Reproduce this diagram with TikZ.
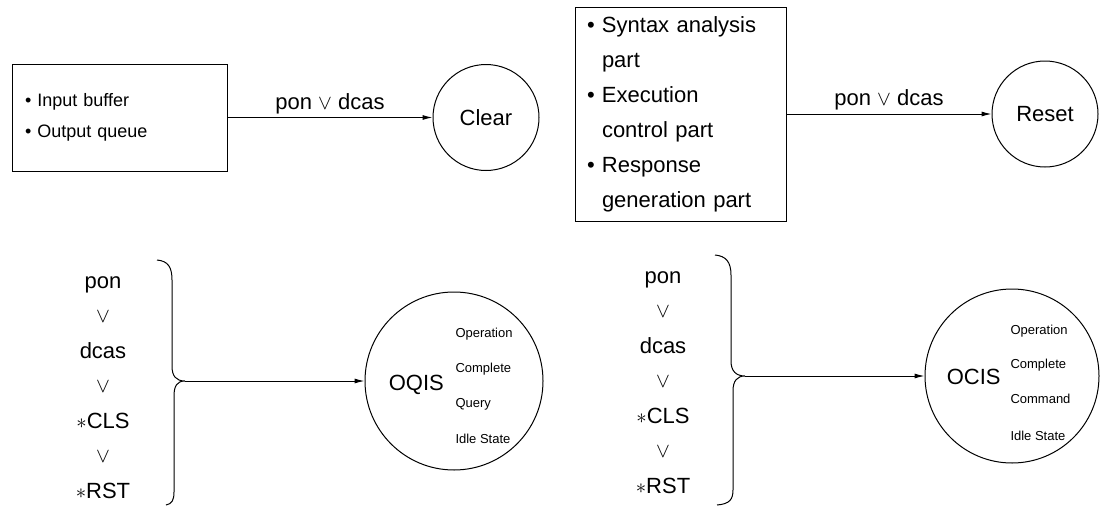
\documentclass[tikz,border=0pt]{standalone}
\usepackage{fontspec}
\setmainfont{Liberation Sans}
\usepackage{tikz}
\usetikzlibrary{arrows.meta}

\newcommand{\itm}{\makebox[15pt][l]{\textbullet}}
\newcommand{\cnt}{\hspace*{15pt}}

\begin{document}
\begin{tikzpicture}[x=1pt, y=-1pt, line width=1pt, >={Latex[length=10pt,width=5pt]}]
\useasboundingbox (0,0) rectangle (1100,506);

% boxes
\tikzstyle{every node}=[rectangle, draw, align=left, inner ysep=0pt]
\draw    (119.5,117.5) node[text width=189, inner xsep=13, minimum height=107,
                             font=\fontsize{18}{31}\selectfont] (buffers)
                             {\textbullet\ Input buffer\\\textbullet\ Output queue}
         (680.5,114) node[text width=187, inner xsep=12, minimum height=214,
                          font=\fontsize{22}{35}\selectfont] (parts)
                          {\itm Syntax analysis\\\cnt part\\\itm Execution\\\cnt control part\\
                           \itm Response\\\cnt generation part};

% states
\tikzstyle{every node}=[circle, draw, inner sep=0pt, font=\fontsize{22}{26}\selectfont]
\draw    (486,117.5) node[minimum size=106] (clear) {Clear}
         (1045,114)  node[minimum size=106] (reset) {Reset}
         (454,381)   node[minimum size=178] (oqis) {}
         (1012,376)  node[minimum size=174] (ocis) {};

\draw [->] (buffers) -- node[draw=none, rectangle, above, inner sep=3pt] {pon $\vee$ dcas} (clear);
\draw [->] (parts) -- node[draw=none, rectangle, above, inner sep=3pt] {pon $\vee$ dcas} (reset);

% conditions
\tikzstyle{every node}=[anchor=base, font=\fontsize{22}{26}\selectfont]
\draw    (103,288) node (ponL) {pon}
         (103,322) node (orL1) {$\vee$}
         (103,358) node (dcasL) {dcas}
         (103,392) node (orL2) {$\vee$}
         (103,428) node (clsL) {$\ast$CLS}
         (103,462) node (orL3) {$\vee$}
         (103,498) node (rstL) {$\ast$RST};
\draw    (663,283) node (ponR) {pon}
         (663,317) node (orR1) {$\vee$}
         (663,353) node (dcasR) {dcas}
         (663,387) node (orR2) {$\vee$}
         (663,423) node (clsR) {$\ast$CLS}
         (663,457) node (orR3) {$\vee$}
         (663,493) node (rstR) {$\ast$RST};

% braces
\draw (157,260) .. controls (168,261) and (172,267) .. (172,280) -- (172,366)
      .. controls (172,376) and (176,381) .. (185,381) coordinate (tipL)
      .. controls (177,381) and (174,386) .. (174,396) -- (174,492)
      .. controls (174,500) and (172,504) .. (166,505);
\draw (715,255) .. controls (726,256) and (731,262) .. (731,275) -- (731,361)
      .. controls (731,371) and (736,376) .. (745,376) coordinate (tipR)
      .. controls (737,376) and (733,381) .. (733,391) -- (733,490)
      .. controls (733,499) and (730,504) .. (717,505);

\draw [->] (tipL) -- (oqis);
\draw [->] (tipR) -- (ocis);

% state names
\tikzstyle{every node}=[anchor=base west, font=\fontsize{22}{26}\selectfont]
\draw    (385,390) node (oqisname) {OQIS}
         (943,384) node (ocisname) {OCIS};

\tikzstyle{every node}=[anchor=base west, inner xsep=0pt, font=\fontsize{13}{15}\selectfont]
\draw    (455,337) node (oqis1) {Operation}
         (455,372) node (oqis2) {Complete}
         (455,407) node (oqis3) {Query}
         (455,443) node (oqis4) {Idle State};
\draw    (1010,334) node (ocis1) {Operation}
         (1010,368) node (ocis2) {Complete}
         (1010,403) node (ocis3) {Command}
         (1010,440) node (ocis4) {Idle State};

\end{tikzpicture}
\end{document}
